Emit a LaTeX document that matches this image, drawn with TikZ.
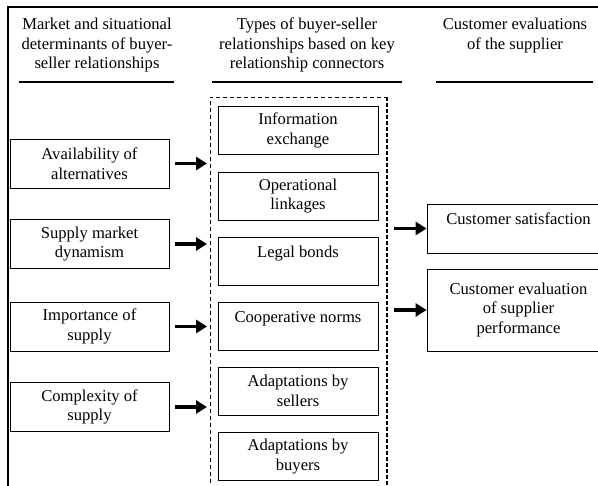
\documentclass[tikz,border=0pt]{standalone}
\usepackage{fontspec}
\setmainfont{Liberation Serif}
\usetikzlibrary{arrows.meta}

\tikzset{
  every node/.style={font=\fontsize{16.6}{19.5}\selectfont},
  headtxt/.style={align=center,anchor=north,inner sep=0pt},
  factor/.style={draw,line width=0.8pt,align=center,inner sep=0pt,minimum width=159pt,minimum height=49pt},
  connector/.style={factor,minimum width=160pt,minimum height=48pt},
  evaluation/.style={factor,minimum width=183pt},
  highset/.style={text depth=19pt},
  arr/.style={-{Triangle[length=11pt,width=13pt]},line width=3.5pt},
}

\begin{document}
\begin{tikzpicture}[x=1pt,y=-1pt]
\useasboundingbox (0,0) rectangle (598,486);

\draw[line width=1.6pt] (8,490) -- (8,7) -- (605,7);

\node[headtxt] (hmarket) at (97,18) {Market and situational\\determinants of buyer-\\seller relationships};
\node[headtxt] (htypes) at (307,18) {Types of buyer-seller\\relationships based on key\\relationship connectors};
\node[headtxt] (heval) at (515,18) {Customer evaluations\\of the supplier};

\draw[line width=1.3pt] (19,82) -- (174,82);
\draw[line width=1.3pt] (212,82) -- (402,82);
\draw[line width=1.3pt] (436,82) -- (593,82);

\coordinate (dl) at (210,97);
\coordinate (dr) at (387,97);
\draw[line width=0.6pt,dash pattern=on 4pt off 3pt] (210,490) -- (dl) -- (dr);
\draw[line width=2pt,dash pattern=on 4pt off 2pt] (dr) -- (387,490);

\node[factor] (alt) at (89.5,163.5) {Availability of\\alternatives};
\node[factor] (dyn) at (89.5,244) {Supply market\\dynamism};
\node[factor] (imp) at (89.5,326.5) {Importance of\\supply};
\node[factor] (cpx) at (89.5,407) {Complexity of\\supply};

\node[connector] (info) at (298,130.5) {Information\\exchange};
\node[connector] (oper) at (298,196) {Operational\\linkages};
\node[connector,highset] (legal) at (298,261) {Legal bonds};
\node[connector,highset] (coop) at (298,326.5) {Cooperative norms};
\node[connector] (sell) at (298,391) {Adaptations by\\sellers};
\node[connector] (buy) at (298,456.5) {Adaptations by\\buyers};

\node[evaluation,highset] (sat) at (518.5,228.5) {Customer satisfaction};
\node[evaluation,minimum height=82pt] (perf) at (518.5,310) {Customer evaluation\\of supplier\\performance};

\foreach \f in {alt,dyn,imp,cpx}
  \draw[arr,shorten <=6pt,shorten >=3pt] (\f) -- (\f -| dl);

\foreach \e in {sat,perf}
  \draw[arr,shorten <=7pt] (dr |- \e) -- (\e);

\end{tikzpicture}
\end{document}
